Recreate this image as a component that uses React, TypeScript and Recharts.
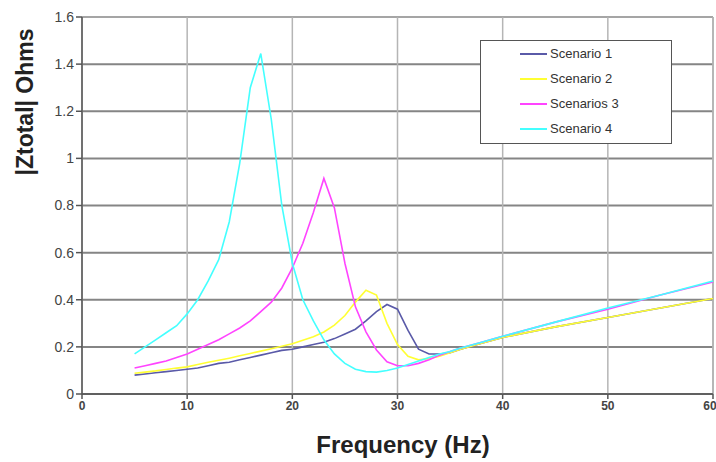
import { CartesianGrid, Legend, Line, LineChart, ReferenceLine, XAxis, YAxis } from "recharts";

const frequencies = [
  5, 6, 7, 8, 9, 10, 11, 12, 13, 14, 15, 16, 17, 18, 19, 20, 21, 22, 23, 24, 25, 26, 27, 28, 29, 30,
  31, 32, 33, 34, 35, 36, 38, 40, 45, 50, 55, 60,
];

const scenario1 = [
  0.08, 0.085, 0.09, 0.095, 0.1, 0.105, 0.11, 0.12, 0.13, 0.135, 0.145, 0.155, 0.165, 0.175, 0.185,
  0.19, 0.2, 0.21, 0.22, 0.235, 0.255, 0.275, 0.31, 0.35, 0.38, 0.36, 0.27, 0.19, 0.17, 0.17, 0.175,
  0.19, 0.215, 0.24, 0.285, 0.325, 0.365, 0.405,
];

const scenario2 = [
  0.088, 0.093, 0.098, 0.104, 0.11, 0.115, 0.125, 0.135, 0.143, 0.152, 0.162, 0.172, 0.182, 0.192,
  0.203, 0.213, 0.228, 0.243, 0.263, 0.292, 0.333, 0.39, 0.44, 0.42, 0.3, 0.21, 0.16, 0.145, 0.15,
  0.16, 0.175, 0.19, 0.215, 0.24, 0.285, 0.325, 0.365, 0.405,
];

const scenario3 = [
  0.11, 0.12, 0.13, 0.14, 0.155, 0.17, 0.19, 0.21, 0.23, 0.255, 0.28, 0.31, 0.35, 0.39, 0.45, 0.535,
  0.64, 0.77, 0.915, 0.79, 0.555, 0.37, 0.264, 0.187, 0.137, 0.12, 0.12, 0.13, 0.145, 0.165, 0.18,
  0.195, 0.22, 0.245, 0.305, 0.36, 0.42, 0.475,
];

const scenario4 = [
  0.17, 0.2, 0.23, 0.26, 0.29, 0.34, 0.4, 0.48, 0.57, 0.73, 0.98, 1.3, 1.445, 1.165, 0.8, 0.555, 0.4,
  0.31, 0.23, 0.17, 0.13, 0.105, 0.095, 0.093, 0.1, 0.11, 0.125, 0.14, 0.155, 0.17, 0.18, 0.195, 0.22,
  0.245, 0.305, 0.365, 0.42, 0.48,
];

const xTicks = [0, 10, 20, 30, 40, 50, 60];
const yTicks = [0, 0.2, 0.4, 0.6, 0.8, 1, 1.2, 1.4, 1.6];

const series = [
  { key: "s1", name: "Scenario 1", color: "#5a5aa8" },
  { key: "s2", name: "Scenario 2", color: "#ffff33" },
  { key: "s3", name: "Scenarios 3", color: "#ff44ff" },
  { key: "s4", name: "Scenario 4", color: "#44ffff" },
];

const data = frequencies.map((f, i) => ({
  freq: f,
  s1: scenario1[i],
  s2: scenario2[i],
  s3: scenario3[i],
  s4: scenario4[i],
}));

function LegendBox() {
  return (
    <div
      style={{
        width: 192,
        height: 104,
        border: "1.5px solid #555",
        background: "#fff",
        boxSizing: "border-box",
        paddingTop: 0,
      }}
    >
      {series.map((s) => (
        <div key={s.key} style={{ display: "flex", alignItems: "center", height: 25, paddingLeft: 39 }}>
          <span style={{ width: 27, height: 2, background: s.color, marginRight: 3 }} />
          <span style={{ fontFamily: "Liberation Sans, Arial", fontSize: 13, color: "#333" }}>{s.name}</span>
        </div>
      ))}
    </div>
  );
}

function YTitle({ viewBox }: { viewBox?: { x: number; y: number; width: number } }) {
  const y = (viewBox?.y ?? 17) + 85;
  return (
    <text
      x={33}
      y={y}
      transform={`rotate(-90 33 ${y})`}
      textAnchor="middle"
      fontFamily="Liberation Sans, Arial"
      fontWeight="bold"
      fontSize={23}
      fill="#222"
    >
      |Ztotal| Ohms
    </text>
  );
}

function XTitle() {
  return (
    <text
      x={403}
      y={453}
      textAnchor="middle"
      fontFamily="Liberation Sans, Arial"
      fontWeight="bold"
      fontSize={24}
      fill="#222"
    >
      Frequency (Hz)
    </text>
  );
}

export default function App() {
  return (
    <div style={{ position: "absolute", left: 0, top: 0, width: 716, height: 462, background: "#fff" }}>
      <LineChart width={716} height={462} data={data} margin={{ top: 17, right: 3, left: 0, bottom: 0 }}>
        <CartesianGrid vertical={false} stroke="#858585" strokeWidth={2} />
        <CartesianGrid horizontal={false} stroke="#b5b5b5" strokeWidth={1.5} />
        <ReferenceLine y={1.6} stroke="#b0b0b0" strokeWidth={1.5} />
        <ReferenceLine x={60} stroke="#b0b0b0" strokeWidth={1.5} />
        <XAxis
          type="number"
          dataKey="freq"
          domain={[0, 60]}
          ticks={xTicks}
          height={68}
          stroke="#555"
          strokeWidth={1.5}
          tickSize={5}
          tick={{ fontSize: 12, fill: "#444", fontWeight: "bold", fontFamily: "Liberation Sans Narrow, Liberation Sans, Arial" }}
          label={<XTitle />}
        />
        <YAxis
          type="number"
          domain={[0, 1.6]}
          ticks={yTicks}
          width={82}
          stroke="#555"
          strokeWidth={1.5}
          tickSize={6}
          tick={{ fontSize: 14, fill: "#444", fontFamily: "Liberation Sans, Arial" }}
          label={<YTitle />}
        />
        <Legend
          layout="horizontal"
          verticalAlign="middle"
          align="center"
          content={<LegendBox />}
          wrapperStyle={{ position: "absolute", left: 480, top: 40, width: 192, height: 104 }}
        />
        {series.map((s) => (
          <Line
            key={s.key}
            type="linear"
            dataKey={s.key}
            name={s.name}
            stroke={s.color}
            strokeWidth={1.6}
            dot={false}
            isAnimationActive={false}
          />
        ))}
      </LineChart>
    </div>
  );
}
